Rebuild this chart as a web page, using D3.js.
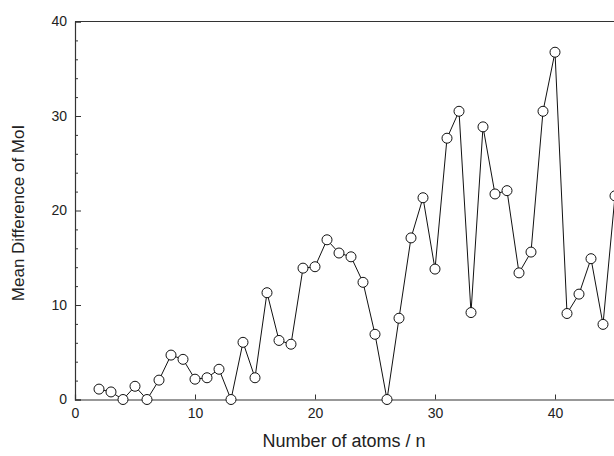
<!DOCTYPE html>
<html>
<head>
<meta charset="utf-8">
<script src="https://cdn.jsdelivr.net/npm/d3@7"></script>
<style>
  html, body { margin: 0; padding: 0; background: #fff; }
  svg { display: block; }
  text { font-family: "Liberation Sans", Arial, sans-serif; fill: #222; }
</style>
</head>
<body>
<svg id="chart" width="614" height="456"></svg>
<script>
const atoms = [2,3,4,5,6,7,8,9,10,11,12,13,14,15,16,17,18,19,20,21,22,23,24,25,26,27,28,29,30,31,32,33,34,35,36,37,38,39,40,41,42,43,44,45];
const meanDiff = [1.1,0.8,0,1.4,0,2.05,4.7,4.25,2.15,2.3,3.2,0,6.05,2.3,11.3,6.25,5.85,13.9,14.05,16.9,15.5,15.1,12.4,6.9,0,8.6,17.1,21.35,13.8,27.65,30.5,9.2,28.85,21.75,22.1,13.4,15.6,30.5,36.75,9.1,11.15,14.9,7.95,21.55];
const xTicks = [0,10,20,30,40];
const yTicks = [0,10,20,30,40];
const yMinorTicks = [2,4,6,8,12,14,16,18,22,24,26,28,32,34,36,38];

const svg = d3.select("#chart");
const x = d3.scaleLinear().domain([0,45]).range([75,615]);
const y = d3.scaleLinear().domain([0,40]).range([399.5,21.5]);
const axisColor = "#333";

// frame: top line
svg.append("line").attr("x1",75).attr("x2",615).attr("y1",y(40)).attr("y2",y(40))
  .attr("stroke",axisColor).attr("stroke-width",1.2);

// x axis
const gx = svg.append("g").attr("transform",`translate(0,${y(0)})`)
  .call(d3.axisBottom(x).tickValues(xTicks).tickFormat(d3.format("d")).tickSize(-5).tickPadding(9));
gx.select(".domain").attr("stroke",axisColor).attr("stroke-width",1.2);
gx.selectAll(".tick line").attr("stroke",axisColor);
gx.selectAll(".tick").filter(d => d === 0).select("line").remove();
gx.selectAll("text").attr("font-size",14).attr("fill","#222")
  .style("font-family",'"Liberation Sans", Arial, sans-serif');

// y axis
const gy = svg.append("g").attr("transform",`translate(${x(0)},0)`)
  .call(d3.axisLeft(y).tickValues(yTicks).tickFormat(d3.format("d")).tickSize(-6).tickPadding(8));
gy.select(".domain").attr("stroke",axisColor).attr("stroke-width",1.2);
gy.selectAll(".tick line").attr("stroke",axisColor);
gy.selectAll("text").attr("font-size",14).attr("fill","#222")
  .style("font-family",'"Liberation Sans", Arial, sans-serif');

const gym = svg.append("g").attr("transform",`translate(${x(0)},0)`)
  .call(d3.axisLeft(y).tickValues(yMinorTicks).tickFormat("").tickSize(-3));
gym.select(".domain").remove();
gym.selectAll(".tick line").attr("stroke",axisColor);

// line
const line = d3.line().x((d,i) => x(atoms[i])).y(d => y(d));
svg.append("path").datum(meanDiff).attr("d",line)
  .attr("fill","none").attr("stroke","#111").attr("stroke-width",1);

// points
svg.selectAll("circle.pt").data(meanDiff).join("circle")
  .attr("class","pt")
  .attr("cx",(d,i) => x(atoms[i])).attr("cy",d => y(d)).attr("r",5)
  .attr("fill","#fff").attr("stroke","#111").attr("stroke-width",1);

// axis titles
svg.append("text").attr("x",344).attr("y",447).attr("text-anchor","middle")
  .attr("font-size",18).text("Number of atoms / n");
svg.append("text").attr("transform","translate(24,213) rotate(-90)")
  .attr("text-anchor","middle").attr("font-size",17).text("Mean Difference of MoI");
</script>
</body>
</html>
